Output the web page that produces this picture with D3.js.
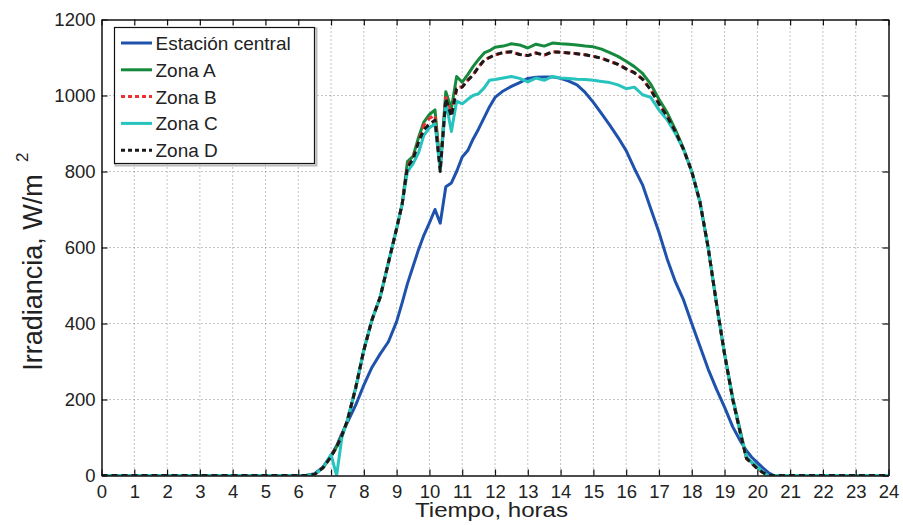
<!DOCTYPE html>
<html>
<head>
<meta charset="utf-8">
<script src="https://cdn.jsdelivr.net/npm/d3@7"></script>
<style>
body { margin: 0; background: white; }
text { font-family: "Liberation Sans", Arial, sans-serif; fill: #222; }
</style>
</head>
<body>
<svg id="chart" width="903" height="525"></svg>
<script>
// sample times (hours) shared by all series
var hours = [0, 6, 6.25, 6.5, 6.75, 7, 7.17, 7.33, 7.5, 7.75, 8, 8.25, 8.5, 8.75, 9, 9.17, 9.33, 9.5, 9.67, 9.83,
    10, 10.17, 10.33, 10.5, 10.67, 10.83, 11, 11.17, 11.33, 11.5, 11.67, 11.83, 12, 12.25, 12.5, 12.75,
    13, 13.25, 13.5, 13.75, 14, 14.25, 14.5, 14.75, 15, 15.25, 15.5, 15.75, 16, 16.25, 16.5, 16.75,
    17, 17.25, 17.5, 17.75, 18, 18.25, 18.5, 18.75, 19, 19.25, 19.5, 19.67, 19.83, 20, 20.17, 20.33, 20.5, 21, 24]

var central = [0, 0, 0, 5, 22, 52, 78, 110, 140, 185, 238, 285, 320, 352, 405, 455, 505, 550, 595, 632,
    665, 700, 664, 760, 770, 800, 838, 855, 885, 912, 942, 970, 995, 1012, 1024, 1034,
    1045, 1048, 1049, 1049, 1045, 1038, 1028, 1008, 982, 952, 922, 890, 855, 808, 765, 702,
    640, 570, 510, 462, 400, 340, 280, 228, 180, 128, 88, 65, 48, 34, 20, 8, 0, 0, 0]

var zonaA = [0, 0, 0, 3, 20, 50, 75, 105, 145, 230, 330, 410, 470, 560, 650, 715, 826, 840, 890, 930,
    950, 962, 810, 1010, 965, 1050, 1035, 1055, 1076, 1095, 1112, 1118, 1127, 1130, 1136, 1133,
    1125, 1135, 1130, 1138, 1136, 1135, 1133, 1130, 1128, 1122, 1113, 1103, 1090, 1076, 1058, 1030,
    990, 955, 910, 860, 800, 720, 600, 455, 320, 205, 110, 45, 35, 22, 8, 0, 0, 0, 0]

var zonaB = [0, 0, 0, 3, 20, 50, 75, 105, 145, 230, 330, 410, 470, 560, 650, 715, 815, 835, 880, 922,
    940, 948, 810, 995, 950, 1020, 1023, 1040, 1054, 1075, 1093, 1100, 1107, 1113, 1115, 1108,
    1105, 1112, 1106, 1115, 1114, 1112, 1110, 1107, 1103, 1098, 1090, 1082, 1070, 1060, 1043, 1015,
    978, 945, 905, 858, 800, 720, 600, 455, 320, 200, 105, 45, 32, 18, 8, 0, 0, 0, 0]

var zonaC = [0, 0, 0, 3, 20, 55, 0, 100, 145, 230, 330, 410, 470, 560, 650, 715, 800, 820, 850, 895,
    915, 925, 805, 985, 905, 985, 978, 990, 1000, 1005, 1020, 1040, 1042, 1046, 1050, 1045,
    1036, 1046, 1040, 1050, 1046, 1045, 1043, 1042, 1040, 1037, 1034, 1028, 1018, 1022, 1002, 995,
    962, 936, 900, 858, 800, 720, 600, 455, 320, 200, 105, 50, 35, 22, 8, 0, 0, 0, 0]

var zonaD = [0, 0, 0, 3, 20, 50, 75, 105, 145, 230, 330, 410, 470, 560, 650, 715, 812, 832, 878, 910,
    925, 935, 800, 992, 945, 1018, 1022, 1040, 1054, 1075, 1093, 1100, 1107, 1113, 1115, 1108,
    1105, 1112, 1106, 1115, 1114, 1112, 1110, 1107, 1103, 1098, 1090, 1082, 1070, 1060, 1043, 1015,
    978, 945, 905, 858, 800, 720, 600, 455, 320, 200, 105, 45, 32, 18, 8, 0, 0, 0, 0]

var seriesNames = ['Estación central', 'Zona A', 'Zona B', 'Zona C', 'Zona D']
var xTicks = d3.range(0, 25)
var yTicks = [0, 200, 400, 600, 800, 1000, 1200]

var svg = d3.select('#chart')
var pLeft = 101.5, pRight = 888.5, pTop = 19.5, pBottom = 475.5

var x = d3.scaleLinear().domain([0, 24]).range([pLeft, pRight])
var y = d3.scaleLinear().domain([0, 1200]).range([pBottom, pTop])

// dotted grid
var grid = svg.append('g')
grid.selectAll('.vg').data(xTicks.slice(1, -1)).enter().append('line')
    .attr('x1', d => x(d)).attr('x2', d => x(d))
    .attr('y1', pTop).attr('y2', pBottom)
    .style('stroke', '#888').style('stroke-width', 1).style('stroke-dasharray', '1,3')
grid.selectAll('.hg').data(yTicks.slice(1, -1)).enter().append('line')
    .attr('x1', pLeft).attr('x2', pRight)
    .attr('y1', d => y(d)).attr('y2', d => y(d))
    .style('stroke', '#888').style('stroke-width', 1).style('stroke-dasharray', '1,3')

// lines
var colors = ['#1f52ad', '#168a3c', '#f03030', '#27c3be', '#1a1a1a']
var dashes = [null, null, '6,4', null, '6,4']
var allSeries = [central, zonaA, zonaB, zonaC, zonaD]

var line = d3.line().x(d => x(d[0])).y(d => y(d[1]))
svg.append('clipPath').attr('id', 'clip').append('rect')
    .attr('x', pLeft).attr('y', pTop - 2).attr('width', pRight - pLeft).attr('height', pBottom - pTop + 2)

allSeries.forEach(function(vals, i) {
    var pts = hours.map((h, j) => [h, vals[j]])
    svg.append('path')
        .attr('d', line(pts))
        .attr('clip-path', 'url(#clip)')
        .style('fill', 'none')
        .style('stroke', colors[i])
        .style('stroke-width', 3)
        .style('stroke-linejoin', 'round')
        .style('stroke-dasharray', dashes[i])
})

// axes, ticks inward on all four sides
svg.append('g').attr('transform', 'translate(0,' + pBottom + ')')
    .call(d3.axisBottom(x).tickValues(xTicks).tickSizeInner(-6).tickSizeOuter(0).tickPadding(9))
svg.append('g').attr('transform', 'translate(0,' + pTop + ')')
    .call(d3.axisTop(x).tickValues(xTicks).tickSizeInner(-6).tickSizeOuter(0).tickFormat(''))
svg.append('g').attr('transform', 'translate(' + pLeft + ',0)')
    .call(d3.axisLeft(y).tickValues(yTicks).tickFormat(d3.format('d')).tickSizeInner(-6).tickSizeOuter(0).tickPadding(6))
svg.append('g').attr('transform', 'translate(' + pRight + ',0)')
    .call(d3.axisRight(y).tickValues(yTicks).tickSizeInner(-6).tickSizeOuter(0).tickFormat(''))

svg.selectAll('.domain').style('stroke', '#111').style('stroke-width', 1.5)
svg.selectAll('.tick line').style('stroke', '#111').style('stroke-width', 1.2)
svg.selectAll('.tick text').style('font-size', '18.5px').style('fill', '#222')
    .style('font-family', '"Liberation Sans", Arial, sans-serif')

// axis titles
svg.append('text')
    .attr('x', 491.5).attr('y', 517)
    .attr('textLength', 153).attr('lengthAdjust', 'spacingAndGlyphs')
    .style('text-anchor', 'middle').style('font-size', '20px')
    .text('Tiempo, horas')

svg.append('text')
    .attr('transform', 'translate(42,272.5) rotate(-90)')
    .style('text-anchor', 'middle').style('font-size', '27px')
    .text('Irradiancia, W/m')
svg.append('text')
    .attr('transform', 'translate(28,162) rotate(-90)')
    .style('font-size', '17px')
    .text('2')

// legend
var lg = svg.append('g')
lg.append('rect').attr('x', 115.5).attr('y', 28.5).attr('width', 201).attr('height', 137)
    .style('fill', 'none').style('stroke', '#bbb').style('stroke-width', 2)
lg.append('rect').attr('x', 114.5).attr('y', 27.5).attr('width', 200).attr('height', 136)
    .style('fill', 'white').style('stroke', '#111').style('stroke-width', 1.2)

seriesNames.forEach(function(name, i) {
    var ly = 43 + i * 26.8
    lg.append('line')
        .attr('x1', 121).attr('x2', 152).attr('y1', ly).attr('y2', ly)
        .style('stroke', colors[i]).style('stroke-width', 3)
        .style('stroke-dasharray', dashes[i] ? '4,3' : null)
    lg.append('text')
        .attr('x', 155.5).attr('y', ly + 7)
        .style('font-size', '19px')
        .text(name)
})
</script>
</body>
</html>
